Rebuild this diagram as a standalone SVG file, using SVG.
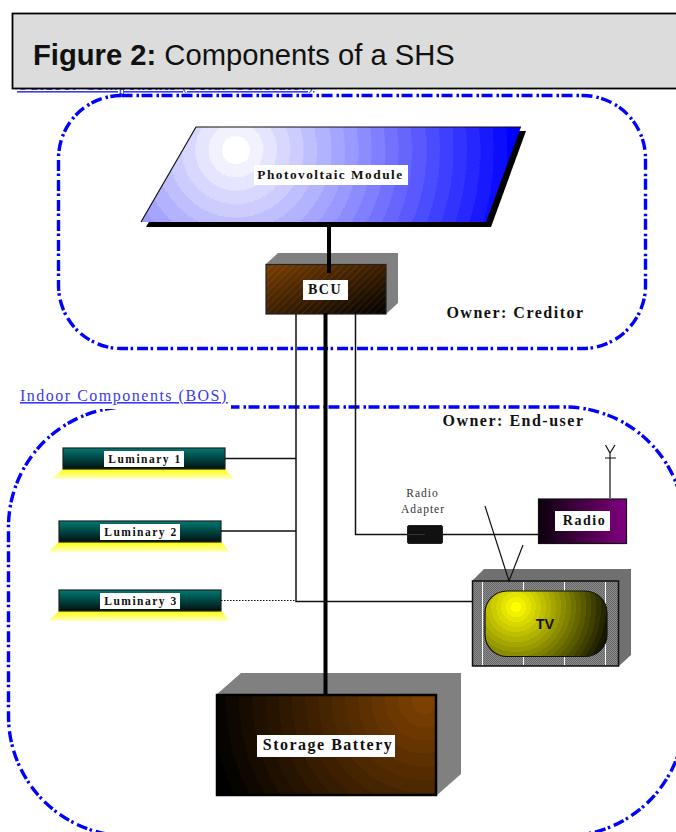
<svg xmlns="http://www.w3.org/2000/svg" width="676" height="832" viewBox="0 0 676 832">
<style>
.b{fill:none;stroke:#00f;stroke-width:3.4;stroke-dasharray:11 4 2.500 2.500}
.t{font-family:"Liberation Serif",serif;font-weight:bold;fill:#111;letter-spacing:1.5px;text-anchor:middle}
.w{fill:#fff}
.c{fill:none;stroke:#111;stroke-width:1.5}
.k{fill:none;stroke:#000;stroke-width:4}
.g{fill:#808080}
.lum{stroke:#222;stroke-width:1.2;fill:url(#teal)}
.lt{fill:url(#yel)}
.link{font-family:"Liberation Serif",serif;fill:#3a3af0;font-size:16px;letter-spacing:1.5px;text-decoration:underline}
.ra{font-family:"Liberation Serif",serif;font-size:11.5px;letter-spacing:1px;fill:#333;text-anchor:middle}
</style>
<defs>
<filter id="bandPv" x="0" y="0" width="1" height="1" color-interpolation-filters="sRGB">
<feComponentTransfer><feFuncR type="discrete" tableValues="0 .05 .1 .15 .2 .25 .3 .35 .4 .45 .5 .55 .6 .65 .7 .75 .8 .85 .9 .95 1"/><feFuncG type="discrete" tableValues="0 .05 .1 .15 .2 .25 .3 .35 .4 .45 .5 .55 .6 .65 .7 .75 .8 .85 .9 .95 1"/></feComponentTransfer>
</filter>
<filter id="bandBat" x="0" y="0" width="1" height="1" color-interpolation-filters="sRGB">
<feComponentTransfer><feFuncR type="discrete" tableValues="0 .0625 .125 .1875 .25 .3125 .375 .4375 .5 .5625 .625 .6875 .75 .8125 .875 .9375 1"/><feFuncG type="discrete" tableValues="0 .0625 .125 .1875 .25 .3125 .375 .4375 .5 .5625 .625 .6875 .75 .8125 .875 .9375 1"/><feFuncB type="discrete" tableValues="0 .0625 .125 .1875 .25 .3125 .375 .4375 .5 .5625 .625 .6875 .75 .8125 .875 .9375 1"/></feComponentTransfer>
<feColorMatrix type="matrix" values=".486 0 0 0 0 0 .25 0 0 0 0 0 0 0 0 0 0 0 1 0"/>
</filter>
<filter id="bandTv" x="0" y="0" width="1" height="1" color-interpolation-filters="sRGB">
<feComponentTransfer><feFuncR type="discrete" tableValues="0 .05 .1 .15 .2 .25 .3 .35 .4 .45 .5 .55 .6 .65 .7 .75 .8 .85 .9 .95 1"/><feFuncG type="discrete" tableValues="0 .05 .1 .15 .2 .25 .3 .35 .4 .45 .5 .55 .6 .65 .7 .75 .8 .85 .9 .95 1"/></feComponentTransfer>
</filter>
<radialGradient id="pv" gradientUnits="userSpaceOnUse" cx="236" cy="150" r="285">
<stop offset="0" stop-color="#fff"/><stop offset="1" stop-color="#00f"/></radialGradient>
<linearGradient id="bcu" x1="0" y1="0" x2="1" y2="1"><stop offset="0" stop-color="#7a3e00"/><stop offset="1" stop-color="#000"/></linearGradient>
<pattern id="hatch" width="5" height="5" patternUnits="userSpaceOnUse" patternTransform="rotate(45)"><rect x="0" width="1" height="5" fill="#fff" fill-opacity=".08"/></pattern>
<linearGradient id="teal" x1="0" y1="0" x2="0" y2="1"><stop offset="0" stop-color="#007a72"/><stop offset="1" stop-color="#001010"/></linearGradient>
<linearGradient id="yel" x1="0" y1="0" x2="0" y2="1"><stop offset="0" stop-color="#ffff00"/><stop offset="1" stop-color="#ffffc8"/></linearGradient>
<linearGradient id="rad" x1="1" y1="0" x2="0" y2="0"><stop offset="0" stop-color="#800080"/><stop offset="1" stop-color="#0c000c"/></linearGradient>
<radialGradient id="tv" gradientUnits="userSpaceOnUse" cx="516" cy="607" r="105"><stop offset="0" stop-color="#ff0"/><stop offset="1" stop-color="#000"/></radialGradient>
<radialGradient id="bat" gradientUnits="userSpaceOnUse" cx="425" cy="700" r="225"><stop offset="0" stop-color="#fff"/><stop offset="1" stop-color="#000"/></radialGradient>
<pattern id="mesh" width="2" height="2" patternUnits="userSpaceOnUse"><rect width="2" height="2" fill="#8c8c8c"/><rect width="1" height="1" fill="#666"/><rect x="1" y="1" width="1" height="1" fill="#666"/></pattern>
</defs>

<g id="outdoor-label"><text class="link" x="17" y="90" style="letter-spacing:1.19px">Outdoor Components (Solar Generator)</text><path d="M123.500 88V95" stroke="#5050f0" stroke-width="1" fill="none"/></g>
<g id="outdoor-boundary"><rect class="b" x="58.500" y="95.500" width="587" height="253" rx="63" ry="63"/></g>
<g id="indoor-boundary"><rect class="b" x="8.500" y="407" width="676" height="429" rx="120" ry="120"/></g>
<g id="indoor-label"><rect class="w" x="19" y="386" width="212" height="23"/><text class="link" x="20" y="401">Indoor Components (BOS)</text></g>

<g id="title"><rect x="12.500" y="13.500" width="680" height="75" fill="#dcdcdc" stroke="#000" stroke-width="1.800"/>
<text x="33" y="65" font-family="Liberation Sans,sans-serif" font-size="29.200" fill="#111"><tspan font-weight="bold">Figure 2:</tspan> Components of a SHS</text></g>

<g id="pv-module">
<path d="M146 227L201 131H526L491 227Z" fill="#000"/>
<path d="M141 222L196 127H521L486 222Z" fill="url(#pv)" filter="url(#bandPv)"/>
<path d="M141 222L196 127H521" fill="none" stroke="#111" stroke-width="1.200"/>
<rect class="w" x="254" y="165" width="154" height="20"/>
<text class="t" x="330.500" y="179" font-size="13.300">Photovoltaic Module</text>
</g>
<g id="bcu">
<path class="g" d="M266 264L278 253H398V303L386 314Z"/>
<rect x="266" y="264.500" width="120" height="49.500" fill="url(#bcu)"/>
<rect x="266" y="264.500" width="120" height="49.500" fill="url(#hatch)" stroke="#222" stroke-width="1.200"/>
<rect class="w" x="303" y="280" width="45" height="20"/>
<text class="t" x="325" y="294" font-size="14">BCU</text>
</g>
<g id="luminary-1"><path class="lt" d="M52 479L63 469H225L234 479Z"/><rect class="lum" x="63" y="448" width="162" height="21"/><rect class="w" x="104" y="451" width="80" height="16"/><text class="t" x="145" y="463" font-size="11.500">Luminary 1</text></g>
<g id="luminary-2"><path class="lt" d="M48 552L59 542H221L230 552Z"/><rect class="lum" x="59" y="521" width="162" height="21"/><rect class="w" x="100" y="524" width="80" height="16"/><text class="t" x="141" y="536" font-size="11.500">Luminary 2</text></g>
<g id="luminary-3"><path class="lt" d="M48 621L59 611H221L230 621Z"/><rect class="lum" x="59" y="590" width="162" height="21"/><rect class="w" x="100" y="593" width="80" height="16"/><text class="t" x="141" y="605" font-size="11.500">Luminary 3</text></g>
<g id="radio-adapter"><rect x="407.500" y="525.500" width="35" height="18" rx="1.500" fill="#111" stroke="#222"/><path d="M407 534.500H425" stroke="#333" fill="none"/>
<text class="ra" x="422.500" y="497">Radio</text>
<text class="ra" x="423" y="513">Adapter</text></g>
<g id="radio"><rect x="538.500" y="499" width="88" height="44.500" fill="url(#rad)" stroke="#111" stroke-width="1.200"/>
<rect class="w" x="555" y="511" width="55" height="20"/><text class="t" x="584.500" y="525" font-size="14">Radio</text></g>
<g id="tv-set">
<path d="M472 581L484 569H631V655L619 666Z" fill="#707070"/>
<rect x="472.500" y="581" width="146" height="85" fill="url(#mesh)" stroke="#111" stroke-width="1.500"/>
<path d="M482.500 582V665M523.500 582V665M564.500 582V665M605.500 582V665" stroke="#fff" stroke-width="1"/>
<rect x="485" y="591" width="122" height="65.500" rx="22" ry="22" fill="url(#tv)" filter="url(#bandTv)"/>
<rect x="485" y="591" width="122" height="65.500" rx="22" ry="22" fill="none" stroke="#111" stroke-width="1.200"/>
<text x="545" y="629" font-family="Liberation Sans,sans-serif" font-size="14.500" font-weight="bold" fill="#111" text-anchor="middle">TV</text>
</g>
<g id="owner-labels"><text class="t" x="515.500" y="318" font-size="16">Owner: Creditor</text><text class="t" x="513.500" y="426" font-size="16">Owner: End-user</text></g>
<g id="battery">
<path class="g" d="M216 695L241 673H461V774L436 796Z"/>
<rect x="217" y="695" width="219" height="100" fill="url(#bat)" filter="url(#bandBat)"/>
<rect x="217" y="695" width="219" height="100" fill="none" stroke="#000" stroke-width="2.500"/>
<rect class="w" x="257" y="735" width="138" height="22"/>
<text class="t" x="328" y="750" font-size="16">Storage Battery</text>
</g>

<g id="connectors">
<path class="k" d="M329 225V273M325.500 313V695"/>
<path class="c" d="M296 314V601.500H472M355.500 314V534.500H407M443 534.500H538M225 458.500H296M221 531H296"/>
<path d="M221 600.500H296" fill="none" stroke="#111" stroke-width="1.200" stroke-dasharray="1.500 1.500"/>
<path d="M485 506L509 581L523 545M610 498V453M605 458H616M605.500 445L610 453L615 445" fill="none" stroke="#111" stroke-width="1.200"/>
</g>
</svg>
